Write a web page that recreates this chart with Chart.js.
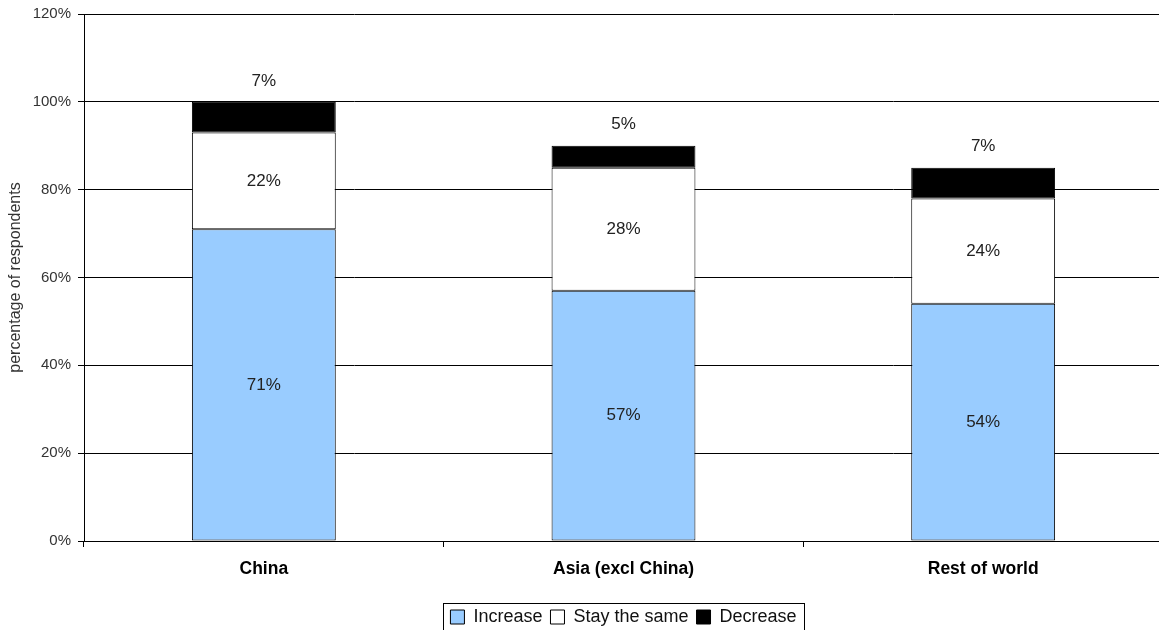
<!DOCTYPE html>
<html>
<head>
<meta charset="utf-8">
<script src="https://cdn.jsdelivr.net/npm/chart.js@4/dist/chart.umd.min.js"></script>
<style>
  html, body { margin: 0; padding: 0; background: #fff; overflow: hidden; }
  #wrap { width: 1163px; height: 630px; position: relative; }
</style>
</head>
<body>
<div id="wrap"><canvas id="c"></canvas></div>
<script>
  // values (percent of respondents)
  const regions = ["China", "Asia (excl China)", "Rest of world"];
  const increase = [71, 57, 54];
  const staySame = [22, 28, 24];
  const decrease = [7, 5, 7];

  const FONT = "'Liberation Sans', Arial, Helvetica, sans-serif";

  // value labels: inside for the two lower segments, above the bar for the top one
  const valueLabels = {
    id: "valueLabels",
    afterDatasetsDraw(chart) {
      const ctx = chart.ctx;
      ctx.save();
      ctx.font = "17px " + FONT;
      ctx.fillStyle = "#222";
      ctx.textAlign = "center";
      ctx.textBaseline = "middle";
      chart.data.datasets.forEach((ds, di) => {
        const meta = chart.getDatasetMeta(di);
        meta.data.forEach((bar, i) => {
          const v = ds.data[i];
          const y = di === 2 ? bar.y - 21 : (bar.y + bar.base) / 2;
          ctx.fillText(v + "%", bar.x, y);
        });
      });
      ctx.restore();
    },
  };

  // thin frame round the legend
  const legendFrame = {
    id: "legendFrame",
    afterDraw(chart) {
      const l = chart.legend;
      if (!l || !l.legendHitBoxes.length) return;
      const ctx = chart.ctx;
      const items = l.legendHitBoxes;
      const last = items[items.length - 1];
      const x0 = Math.round(items[0].left - 7);
      const x1 = Math.round(last.left + last.width + 7);
      const y0 = Math.round(items[0].top - 5);
      const y1 = Math.round(items[0].top + items[0].height + 6);
      ctx.save();
      ctx.strokeStyle = "#000";
      ctx.lineWidth = 1;
      ctx.strokeRect(x0 + 0.5, y0 + 0.5, x1 - x0, y1 - y0);
      ctx.restore();
    },
  };

  new Chart(document.getElementById("c"), {
    type: "bar",
    data: {
      labels: regions,
      datasets: [
        { label: "Increase", data: increase, backgroundColor: "#99ccff", borderColor: "#000", borderWidth: 1, borderSkipped: false },
        { label: "Stay the same", data: staySame, backgroundColor: "#ffffff", borderColor: "#000", borderWidth: 1, borderSkipped: false },
        { label: "Decrease", data: decrease, backgroundColor: "#000000", borderColor: "#000", borderWidth: 1, borderSkipped: false },
      ],
    },
    options: {
      responsive: true, maintainAspectRatio: false, animation: false,
      layout: { padding: { top: 14, right: 0, left: 0, bottom: -6 } },
      datasets: { bar: { barPercentage: 0.8, categoryPercentage: 0.5 } },
      scales: {
        x: {
          stacked: true,
          grid: { drawOnChartArea: false, drawTicks: true, tickLength: 6, color: "#000" },
          border: { color: "#000" },
          ticks: { font: { family: FONT, size: 17.5, weight: "bold" }, color: "#000", padding: 12 },
          afterFit: (s) => { s.height = 59; },
        },
        y: {
          stacked: true,
          min: 0, max: 120,
          grid: { color: "#000", tickLength: 6 },
          border: { color: "#000" },
          ticks: { stepSize: 20, callback: (v) => v + "%", font: { family: FONT, size: 15 }, color: "#333", padding: 7 },
          title: { display: true, text: "percentage of respondents", font: { family: FONT, size: 16 }, color: "#333", padding: { top: 6, bottom: 0 } },
          afterFit: (s) => { s.width = 84; s.paddingTop = 0; s.paddingBottom = 0; },
        },
      },
      plugins: {
        legend: {
          position: "bottom",
          fullSize: false,
          labels: { font: { family: FONT, size: 18 }, color: "#111", boxWidth: 14, boxHeight: 14, padding: 8 },
        },
        tooltip: { enabled: false },
      },
    },
    plugins: [valueLabels, legendFrame],
  });
</script>
</body>
</html>
